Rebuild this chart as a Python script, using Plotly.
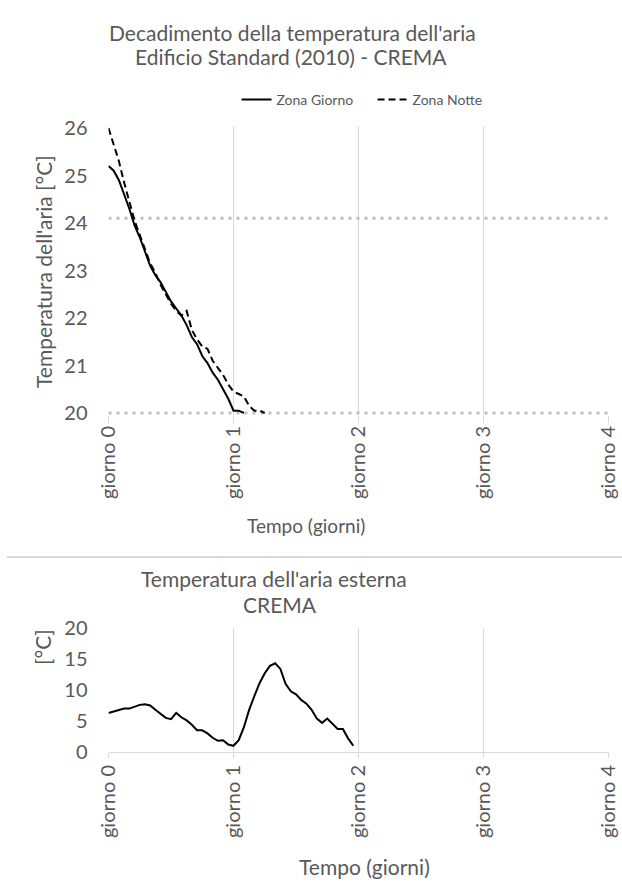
import plotly.graph_objects as go

W, H = 622, 884

# ---------------- data ----------------
giorni_ticks = [0, 1, 2, 3, 4]
giorni_labels = ["giorno 0", "giorno 1", "giorno 2", "giorno 3", "giorno 4"]

# hourly samples (hours from start)
ore_giorno = list(range(27))
zona_giorno = [25.2, 25.1, 24.9, 24.6, 24.3, 23.95, 23.7, 23.4, 23.1, 22.9,
               22.75, 22.55, 22.35, 22.2, 22.05, 21.85, 21.6, 21.45, 21.2, 21.05,
               20.85, 20.7, 20.5, 20.3, 20.05, 20.05, 20.0]

ore_notte = list(range(31))
zona_notte = [26.0, 25.65, 25.3, 24.85, 24.45, 24.05, 23.75, 23.45, 23.15, 22.95,
              22.7, 22.5, 22.3, 22.15, 22.05, 22.15, 21.75, 21.55, 21.4, 21.35,
              21.1, 20.95, 20.8, 20.6, 20.45, 20.4, 20.35, 20.15, 20.05, 20.05, 20.0]

soglia_alta = 24.1
soglia_bassa = 20.0
soglia_x = [0, 4]

ore_esterna = list(range(48))
temp_esterna = [6.3, 6.5, 6.8, 7.0, 7.0, 7.3, 7.6, 7.7, 7.5, 6.8,
                6.1, 5.5, 5.3, 6.3, 5.6, 5.1, 4.4, 3.5, 3.5, 3.0,
                2.3, 1.8, 1.9, 1.2, 1.0, 1.9, 4.0, 6.8, 9.0, 11.1,
                12.7, 13.9, 14.3, 13.4, 11.0, 9.8, 9.3, 8.4, 7.8, 6.8,
                5.4, 4.7, 5.4, 4.5, 3.7, 3.7, 2.2, 1.0]

t_giorno = [h / 24 for h in ore_giorno]
t_notte = [h / 24 for h in ore_notte]
t_esterna = [h / 24 for h in ore_esterna]

# ---------------- styling ----------------
FONT = "Lato"
TXT = "#595959"
GRID = "#d9d9d9"

def px_x(p):
    return p / W

def px_y(p):
    return 1 - p / H

fig = go.Figure()

fig.add_trace(go.Scatter(x=soglia_x, y=[soglia_alta, soglia_alta], mode="lines",
                         line=dict(color="#bfbfbf", width=3, dash="3px,5px"),
                         showlegend=False, hoverinfo="skip", xaxis="x", yaxis="y"))
fig.add_trace(go.Scatter(x=soglia_x, y=[soglia_bassa, soglia_bassa], mode="lines",
                         line=dict(color="#bfbfbf", width=3, dash="3px,5px"),
                         showlegend=False, hoverinfo="skip", xaxis="x", yaxis="y"))
fig.add_trace(go.Scatter(x=t_giorno, y=zona_giorno, mode="lines",
                         name="Zona Giorno\u00a0\u00a0\u00a0\u00a0",
                         line=dict(color="black", width=2), xaxis="x", yaxis="y"))
fig.add_trace(go.Scatter(x=t_notte, y=zona_notte, mode="lines", name="Zona Notte",
                         line=dict(color="black", width=2, dash="7px,4px"),
                         xaxis="x", yaxis="y"))
fig.add_trace(go.Scatter(x=t_esterna, y=temp_esterna, mode="lines", name="Esterna",
                         line=dict(color="black", width=2), showlegend=False,
                         xaxis="x2", yaxis="y2"))

xdom = [px_x(108.5), px_x(608.5)]
unit = 285 / 6.0
ext = 0.04

axis_common = dict(
    showgrid=True, gridcolor=GRID, gridwidth=1, zeroline=False,
    tickfont=dict(family=FONT, size=20, color=TXT),
    automargin=False,
)

fig.update_layout(
    width=W, height=H,
    margin=dict(l=0, r=0, t=0, b=0),
    paper_bgcolor="white", plot_bgcolor="white",
    font=dict(family=FONT, color=TXT),
    xaxis=dict(domain=xdom, range=[0, 4], tickvals=giorni_ticks, ticktext=giorni_labels,
               tickangle=-90, ticks="outside", ticklen=7, tickcolor=GRID,
               ticklabelstandoff=-5,
               showline=False, anchor="y", **axis_common),
    yaxis=dict(domain=[px_y(413 + ext * unit), px_y(128 - ext * unit)],
               range=[20 - ext, 26 + ext], tickvals=[20, 21, 22, 23, 24, 25, 26],
               showgrid=False, zeroline=False, ticks="", ticklabelstandoff=20,
               tickfont=dict(family=FONT, size=20, color=TXT), automargin=False,
               showline=False, anchor="x"),
    xaxis2=dict(domain=xdom, range=[0, 4], tickvals=giorni_ticks, ticktext=giorni_labels,
                tickangle=-90, ticks="outside", ticklen=5, tickcolor=GRID,
                ticklabelstandoff=-1,
                showline=True, linecolor=GRID, linewidth=1, anchor="y2", **axis_common),
    yaxis2=dict(domain=[px_y(752), px_y(628)], range=[0, 20], tickvals=[0, 5, 10, 15, 20],
                showgrid=False, zeroline=False, ticks="", ticklabelstandoff=20,
                tickfont=dict(family=FONT, size=20, color=TXT), automargin=False,
                showline=False, anchor="x2"),
    legend=dict(orientation="h", x=px_x(362), xanchor="center", y=px_y(100), yanchor="middle",
                font=dict(family=FONT, size=14, color=TXT), bgcolor="rgba(0,0,0,0)",
                itemwidth=30),
    showlegend=True,
)

def ann(text, x, y, size, angle=0):
    fig.add_annotation(text=text, x=px_x(x), y=px_y(y), xref="paper", yref="paper",
                       xanchor="center", yanchor="middle", showarrow=False,
                       textangle=angle, font=dict(family=FONT, size=size, color=TXT))

ann("Decadimento della temperatura dell'aria", 292, 33, 21)
ann("Edificio Standard (2010) - CREMA", 291, 57, 21)
ann("Temperatura dell'aria [°C]", 43, 272, 21, -90)
ann("Tempo (giorni)", 306, 525, 19)
ann("Temperatura dell'aria esterna", 274, 578, 21)
ann("CREMA", 280, 604, 21)
ann("[°C]", 42, 647, 21, -90)
ann("Tempo (giorni)", 364, 866, 21)

fig.add_shape(type="line", xref="paper", yref="paper", x0=px_x(7), x1=1,
              y0=px_y(557), y1=px_y(557), line=dict(color=GRID, width=2))

fig.write_html("out.html")
